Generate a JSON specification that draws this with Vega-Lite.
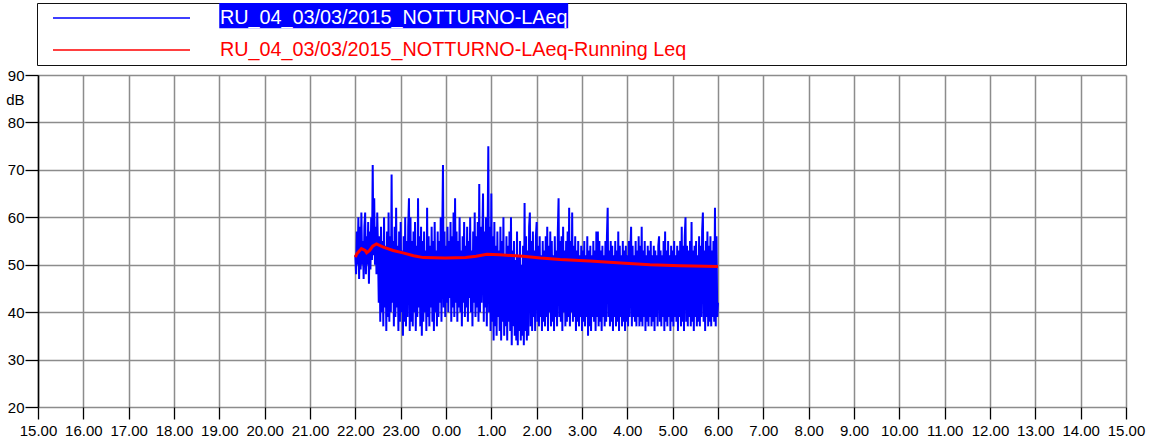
{
"$schema": "https://vega.github.io/schema/vega-lite/v6.json",
"width": 1088, "height": 332,
"autosize": {"type": "none"},
"padding": {"left": 38, "top": 75, "right": 23, "bottom": 37},
"background": "white",
"config": {"view": {"stroke": null}, "font": "Liberation Sans"},
"datasets": {
"laeq": [
{"m":420,"v":52},{"m":421,"v":48},{"m":422,"v":57},{"m":423,"v":50},{"m":424,"v":60},{"m":425,"v":47},{"m":426,"v":58},{"m":427,"v":49},{"m":428,"v":61},{"m":429,"v":50},
{"m":430,"v":55},{"m":431,"v":47},{"m":432,"v":58},{"m":433,"v":61},{"m":434,"v":48},{"m":435,"v":56},{"m":436,"v":50},{"m":437,"v":59},{"m":438,"v":46},{"m":439,"v":57},
{"m":440,"v":49},{"m":441,"v":60},{"m":442,"v":51},{"m":443,"v":71},{"m":444,"v":52},{"m":445,"v":64},{"m":446,"v":50},{"m":447,"v":58},{"m":448,"v":48},{"m":449,"v":61},
{"m":450,"v":53},{"m":451,"v":42},{"m":452,"v":56},{"m":453,"v":38},{"m":454,"v":58},{"m":455,"v":40},{"m":456,"v":55},{"m":457,"v":37},{"m":458,"v":60},{"m":459,"v":41},
{"m":460,"v":54},{"m":461,"v":36},{"m":462,"v":57},{"m":463,"v":39},{"m":464,"v":61},{"m":465,"v":38},{"m":466,"v":56},{"m":467,"v":40},{"m":468,"v":69},{"m":469,"v":42},
{"m":470,"v":55},{"m":471,"v":37},{"m":472,"v":58},{"m":473,"v":39},{"m":474,"v":62},{"m":475,"v":41},{"m":476,"v":54},{"m":477,"v":36},{"m":478,"v":57},{"m":479,"v":38},
{"m":480,"v":59},{"m":481,"v":40},{"m":482,"v":53},{"m":483,"v":35},{"m":484,"v":56},{"m":485,"v":38},{"m":486,"v":60},{"m":487,"v":37},{"m":488,"v":55},{"m":489,"v":39},
{"m":490,"v":58},{"m":491,"v":64},{"m":492,"v":36},{"m":493,"v":60},{"m":494,"v":38},{"m":495,"v":55},{"m":496,"v":37},{"m":497,"v":57},{"m":498,"v":40},{"m":499,"v":59},
{"m":500,"v":36},{"m":501,"v":54},{"m":502,"v":39},{"m":503,"v":64},{"m":504,"v":41},{"m":505,"v":56},{"m":506,"v":37},{"m":507,"v":58},{"m":508,"v":35},{"m":509,"v":55},
{"m":510,"v":38},{"m":511,"v":57},{"m":512,"v":40},{"m":513,"v":53},{"m":514,"v":36},{"m":515,"v":62},{"m":516,"v":39},{"m":517,"v":56},{"m":518,"v":37},{"m":519,"v":54},
{"m":520,"v":41},{"m":521,"v":58},{"m":522,"v":38},{"m":523,"v":55},{"m":524,"v":36},{"m":525,"v":59},{"m":526,"v":40},{"m":527,"v":53},{"m":528,"v":37},{"m":529,"v":57},
{"m":530,"v":39},{"m":531,"v":55},{"m":532,"v":42},{"m":533,"v":60},{"m":534,"v":38},{"m":535,"v":56},{"m":536,"v":71},{"m":537,"v":41},{"m":538,"v":57},{"m":539,"v":39},
{"m":540,"v":54},{"m":541,"v":42},{"m":542,"v":58},{"m":543,"v":40},{"m":544,"v":55},{"m":545,"v":43},{"m":546,"v":59},{"m":547,"v":38},{"m":548,"v":56},{"m":549,"v":41},
{"m":550,"v":61},{"m":551,"v":39},{"m":552,"v":64},{"m":553,"v":42},{"m":554,"v":57},{"m":555,"v":38},{"m":556,"v":55},{"m":557,"v":41},{"m":558,"v":60},{"m":559,"v":40},
{"m":560,"v":53},{"m":561,"v":37},{"m":562,"v":56},{"m":563,"v":42},{"m":564,"v":59},{"m":565,"v":39},{"m":566,"v":54},{"m":567,"v":41},{"m":568,"v":58},{"m":569,"v":38},
{"m":570,"v":55},{"m":571,"v":43},{"m":572,"v":60},{"m":573,"v":40},{"m":574,"v":53},{"m":575,"v":37},{"m":576,"v":57},{"m":577,"v":42},{"m":578,"v":61},{"m":579,"v":39},
{"m":580,"v":56},{"m":581,"v":41},{"m":582,"v":59},{"m":583,"v":38},{"m":584,"v":67},{"m":585,"v":40},{"m":586,"v":58},{"m":587,"v":42},{"m":588,"v":55},{"m":589,"v":65},
{"m":590,"v":38},{"m":591,"v":57},{"m":592,"v":41},{"m":593,"v":60},{"m":594,"v":37},{"m":595,"v":55},{"m":596,"v":75},{"m":597,"v":40},{"m":598,"v":58},{"m":599,"v":36},
{"m":600,"v":65},{"m":601,"v":38},{"m":602,"v":56},{"m":603,"v":34},{"m":604,"v":59},{"m":605,"v":37},{"m":606,"v":54},{"m":607,"v":35},{"m":608,"v":57},{"m":609,"v":39},
{"m":610,"v":53},{"m":611,"v":36},{"m":612,"v":58},{"m":613,"v":34},{"m":614,"v":55},{"m":615,"v":38},{"m":616,"v":60},{"m":617,"v":35},{"m":618,"v":52},{"m":619,"v":37},
{"m":620,"v":56},{"m":621,"v":34},{"m":622,"v":54},{"m":623,"v":38},{"m":624,"v":57},{"m":625,"v":36},{"m":626,"v":60},{"m":627,"v":33},{"m":628,"v":53},{"m":629,"v":37},
{"m":630,"v":55},{"m":631,"v":35},{"m":632,"v":51},{"m":633,"v":34},{"m":634,"v":57},{"m":635,"v":33},{"m":636,"v":52},{"m":637,"v":36},{"m":638,"v":55},{"m":639,"v":34},
{"m":640,"v":50},{"m":641,"v":35},{"m":642,"v":54},{"m":643,"v":33},{"m":644,"v":63},{"m":645,"v":36},{"m":646,"v":56},{"m":647,"v":34},{"m":648,"v":53},{"m":649,"v":35},
{"m":650,"v":58},{"m":651,"v":61},{"m":652,"v":37},{"m":653,"v":55},{"m":654,"v":36},{"m":655,"v":57},{"m":656,"v":39},{"m":657,"v":53},{"m":658,"v":36},{"m":659,"v":56},
{"m":660,"v":59},{"m":661,"v":38},{"m":662,"v":54},{"m":663,"v":37},{"m":664,"v":56},{"m":665,"v":39},{"m":666,"v":52},{"m":667,"v":36},{"m":668,"v":55},{"m":669,"v":38},
{"m":670,"v":53},{"m":671,"v":37},{"m":672,"v":56},{"m":673,"v":39},{"m":674,"v":58},{"m":675,"v":36},{"m":676,"v":54},{"m":677,"v":40},{"m":678,"v":57},{"m":679,"v":37},
{"m":680,"v":55},{"m":681,"v":38},{"m":682,"v":52},{"m":683,"v":36},{"m":684,"v":56},{"m":685,"v":39},{"m":686,"v":53},{"m":687,"v":37},{"m":688,"v":57},{"m":689,"v":64},
{"m":690,"v":39},{"m":691,"v":55},{"m":692,"v":38},{"m":693,"v":56},{"m":694,"v":36},{"m":695,"v":58},{"m":696,"v":40},{"m":697,"v":53},{"m":698,"v":37},{"m":699,"v":55},
{"m":700,"v":38},{"m":701,"v":57},{"m":702,"v":39},{"m":703,"v":62},{"m":704,"v":37},{"m":705,"v":55},{"m":706,"v":40},{"m":707,"v":61},{"m":708,"v":38},{"m":709,"v":54},
{"m":710,"v":39},{"m":711,"v":56},{"m":712,"v":36},{"m":713,"v":53},{"m":714,"v":38},{"m":715,"v":55},{"m":716,"v":37},{"m":717,"v":52},{"m":718,"v":39},{"m":719,"v":54},
{"m":720,"v":36},{"m":721,"v":53},{"m":722,"v":38},{"m":723,"v":55},{"m":724,"v":37},{"m":725,"v":52},{"m":726,"v":39},{"m":727,"v":56},{"m":728,"v":35},{"m":729,"v":53},
{"m":730,"v":37},{"m":731,"v":54},{"m":732,"v":36},{"m":733,"v":52},{"m":734,"v":39},{"m":735,"v":55},{"m":736,"v":38},{"m":737,"v":53},{"m":738,"v":36},{"m":739,"v":57},
{"m":740,"v":39},{"m":741,"v":57},{"m":742,"v":37},{"m":743,"v":55},{"m":744,"v":38},{"m":745,"v":53},{"m":746,"v":36},{"m":747,"v":54},{"m":748,"v":39},{"m":749,"v":52},
{"m":750,"v":37},{"m":751,"v":55},{"m":752,"v":38},{"m":753,"v":56},{"m":754,"v":62},{"m":755,"v":39},{"m":756,"v":53},{"m":757,"v":37},{"m":758,"v":55},{"m":759,"v":38},
{"m":760,"v":54},{"m":761,"v":36},{"m":762,"v":52},{"m":763,"v":39},{"m":764,"v":55},{"m":765,"v":37},{"m":766,"v":53},{"m":767,"v":38},{"m":768,"v":57},{"m":769,"v":36},
{"m":770,"v":54},{"m":771,"v":39},{"m":772,"v":52},{"m":773,"v":37},{"m":774,"v":55},{"m":775,"v":38},{"m":776,"v":53},{"m":777,"v":36},{"m":778,"v":54},{"m":779,"v":38},
{"m":780,"v":52},{"m":781,"v":37},{"m":782,"v":55},{"m":783,"v":39},{"m":784,"v":53},{"m":785,"v":58},{"m":786,"v":37},{"m":787,"v":54},{"m":788,"v":39},{"m":789,"v":52},
{"m":790,"v":38},{"m":791,"v":55},{"m":792,"v":37},{"m":793,"v":53},{"m":794,"v":39},{"m":795,"v":56},{"m":796,"v":37},{"m":797,"v":54},{"m":798,"v":38},{"m":799,"v":58},
{"m":800,"v":37},{"m":801,"v":53},{"m":802,"v":39},{"m":803,"v":55},{"m":804,"v":36},{"m":805,"v":52},{"m":806,"v":38},{"m":807,"v":54},{"m":808,"v":37},{"m":809,"v":53},
{"m":810,"v":39},{"m":811,"v":55},{"m":812,"v":37},{"m":813,"v":52},{"m":814,"v":38},{"m":815,"v":54},{"m":816,"v":36},{"m":817,"v":53},{"m":818,"v":39},{"m":819,"v":52},
{"m":820,"v":37},{"m":821,"v":54},{"m":822,"v":56},{"m":823,"v":38},{"m":824,"v":53},{"m":825,"v":37},{"m":826,"v":52},{"m":827,"v":39},{"m":828,"v":55},{"m":829,"v":36},
{"m":830,"v":57},{"m":831,"v":38},{"m":832,"v":53},{"m":833,"v":37},{"m":834,"v":55},{"m":835,"v":39},{"m":836,"v":52},{"m":837,"v":36},{"m":838,"v":54},{"m":839,"v":38},
{"m":840,"v":53},{"m":841,"v":37},{"m":842,"v":55},{"m":843,"v":39},{"m":844,"v":52},{"m":845,"v":38},{"m":846,"v":54},{"m":847,"v":36},{"m":848,"v":53},{"m":849,"v":39},
{"m":850,"v":55},{"m":851,"v":37},{"m":852,"v":58},{"m":853,"v":38},{"m":854,"v":54},{"m":855,"v":36},{"m":856,"v":56},{"m":857,"v":60},{"m":858,"v":38},{"m":859,"v":54},
{"m":860,"v":37},{"m":861,"v":53},{"m":862,"v":39},{"m":863,"v":55},{"m":864,"v":37},{"m":865,"v":59},{"m":866,"v":38},{"m":867,"v":53},{"m":868,"v":36},{"m":869,"v":54},
{"m":870,"v":39},{"m":871,"v":55},{"m":872,"v":37},{"m":873,"v":52},{"m":874,"v":38},{"m":875,"v":56},{"m":876,"v":37},{"m":877,"v":54},{"m":878,"v":39},{"m":879,"v":57},
{"m":880,"v":61},{"m":881,"v":38},{"m":882,"v":53},{"m":883,"v":36},{"m":884,"v":55},{"m":885,"v":39},{"m":886,"v":57},{"m":887,"v":37},{"m":888,"v":54},{"m":889,"v":38},
{"m":890,"v":56},{"m":891,"v":37},{"m":892,"v":53},{"m":893,"v":39},{"m":894,"v":55},{"m":895,"v":38},{"m":896,"v":62},{"m":897,"v":37},{"m":898,"v":56},{"m":899,"v":39},
{"m":900,"v":42}
],
"leq": [
{"m":420,"v":51.6},{"m":422,"v":52.3},{"m":428,"v":53.4},{"m":433,"v":53.0},{"m":435,"v":52.5},{"m":439,"v":53.0},{"m":443,"v":53.9},{"m":448,"v":54.4},{"m":457,"v":53.7},{"m":470,"v":53.0},{"m":483,"v":52.5},{"m":497,"v":51.9},{"m":510,"v":51.5},{"m":539,"v":51.4},{"m":566,"v":51.5},{"m":580,"v":51.8},{"m":594,"v":52.2},{"m":611,"v":52.1},{"m":642,"v":51.8},{"m":665,"v":51.4},{"m":691,"v":51.1},{"m":730,"v":50.8},{"m":777,"v":50.3},{"m":810,"v":50.0},{"m":850,"v":49.8},{"m":900,"v":49.6}
]
},
"encoding": {
"x": {"field": "m", "type": "quantitative",
 "scale": {"domain": [0, 1440], "nice": false, "zero": false},
 "axis": {"title": null, "values": [0,60,120,180,240,300,360,420,480,540,600,660,720,780,840,900,960,1020,1080,1140,1200,1260,1320,1380,1440],
  "labelExpr": "((floor(datum.value/60)+15)%24) + '.00'",
  "labelFlush": false, "labelOverlap": false, "labelFont": "Liberation Sans", "labelFontSize": 15, "labelColor": "#000", "labelPadding": 4,
  "tickSize": 12, "tickColor": "#000", "tickWidth": 1.3, "domain": false,
  "grid": true, "gridColor": "#8c8c8c", "gridWidth": 1.5}},
"y": {"field": "v", "type": "quantitative",
 "scale": {"domain": [20, 90], "nice": false, "zero": false},
 "axis": {"title": "dB", "titleAngle": 0, "titleAlign": "right", "titleBaseline": "middle", "titleX": -14, "titleY": 24,
  "titleFont": "Liberation Sans", "titleFontSize": 15, "titleFontWeight": "normal", "titleColor": "#000",
  "values": [20,30,40,50,60,70,80,90],
  "labelFont": "Liberation Sans", "labelFontSize": 15, "labelColor": "#000", "labelPadding": 1,
  "tickSize": 13, "tickColor": "#000", "tickWidth": 1.3, "domainColor": "#000", "domainWidth": 1.5,
  "grid": true, "gridColor": "#8c8c8c", "gridWidth": 1.5}}
},
"layer": [
{"data": {"name": "laeq"},
 "mark": {"type": "line", "strokeWidth": 2},
 "encoding": {
  "color": {"datum": "RU_04_03/03/2015_NOTTURNO-LAeq", "type": "nominal",
   "scale": {"domain": ["RU_04_03/03/2015_NOTTURNO-LAeq", "RU_04_03/03/2015_NOTTURNO-LAeq-Running Leq"], "range": ["#0000ff", "#ff0000"]},
   "legend": {"orient": "none", "legendX": -1, "legendY": -72, "title": null, "direction": "vertical",
    "symbolType": "M-1,0H1", "symbolSize": 18769, "symbolStrokeWidth": 1.5, "symbolOffset": 15,
    "clipHeight": 30, "rowPadding": 2, "padding": 0,
    "labelFont": "Liberation Sans", "labelFontSize": 19.8, "labelLimit": 3000, "labelOffset": 29,
    "labelExpr": "pad(datum.label, 122, '\u00a0') + '\u200b'",
    "strokeColor": "#111", "fillColor": "#fff",
    "encode": {
     "symbols": {"update": {
      "shape": [{"test": "datum.value === 'RU_04_03/03/2015_NOTTURNO-LAeq'", "value": "M-1,0H1M1.438,-0.212H6.51V0.139H1.438Z"}, {"value": "M-1,0H1"}],
      "fill": [{"test": "datum.value === 'RU_04_03/03/2015_NOTTURNO-LAeq'", "value": "#0000ff"}, {"value": "transparent"}]}},
     "labels": {"update": {"fill": [{"test": "datum.value === 'RU_04_03/03/2015_NOTTURNO-LAeq'", "value": "#ffffff"}, {"value": "#ff0000"}]}}}
   }}
 }},
{"data": {"name": "leq"},
 "mark": {"type": "line", "strokeWidth": 3},
 "encoding": {
  "color": {"datum": "RU_04_03/03/2015_NOTTURNO-LAeq-Running Leq", "type": "nominal"}
 }}
]
}
